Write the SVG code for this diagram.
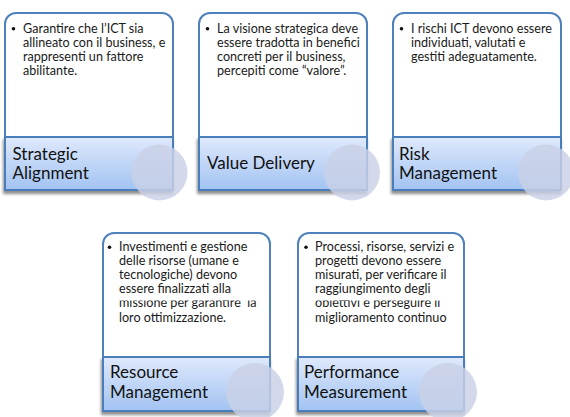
<svg xmlns="http://www.w3.org/2000/svg" width="570" height="417" viewBox="0 0 570 417">
<defs>
<linearGradient id="band" x1="0" y1="0" x2="0" y2="1">
<stop offset="0" stop-color="#dfe9fb"/>
<stop offset="1" stop-color="#a2c3f2"/>
</linearGradient>
<filter id="sh" x="-10%" y="-10%" width="130%" height="140%">
<feGaussianBlur in="SourceAlpha" stdDeviation="1.6"/>
<feOffset dx="-1" dy="2.5" result="b"/>
<feComponentTransfer><feFuncA type="linear" slope="0.45"/></feComponentTransfer>
<feMerge><feMergeNode/><feMergeNode in="SourceGraphic"/></feMerge>
</filter>
<clipPath id="clip4"><rect x="100" y="300.5" width="180" height="40"/></clipPath>
<clipPath id="clip5"><rect x="295" y="300.5" width="180" height="40"/></clipPath>
</defs>
<style>
.card{fill:#ffffff;stroke:#4f81bd;stroke-width:2}
.band{fill:url(#band);stroke:#4a7ebb;stroke-width:2}
.disc{fill:#c9d1e6;fill-opacity:0.82}
.txt{font-family:Lato,"Liberation Sans",sans-serif;font-size:12.6px;fill:#1a1a1a}
.ttl{font-family:Lato,"Liberation Sans",sans-serif;font-size:17px;fill:#111111}
.dot{fill:#111111}
</style>
<g id="connectors"/>
<g id="node-strategic-alignment">
<rect class="card" x="5" y="13" width="168" height="150" rx="11"/>
<rect class="band" x="5" y="137" width="168" height="53" filter="url(#sh)"/>
<circle class="disc" cx="159.5" cy="172.5" r="28"/>
<circle class="dot" cx="13.5" cy="28.8" r="1.8"/>
<text class="txt" x="23" y="32.5">Garantire che l’ICT sia</text>
<text class="txt" x="23" y="46.5">allineato con il business, e</text>
<text class="txt" x="23" y="60.5">rappresenti un fattore</text>
<text class="txt" x="23" y="74.5">abilitante.</text>
<text class="ttl" x="12.5" y="159.5">Strategic</text>
<text class="ttl" x="12.5" y="178.5">Alignment</text>
</g>
<g id="node-value-delivery">
<rect class="card" x="199" y="13" width="168" height="150" rx="11"/>
<rect class="band" x="199" y="137" width="168" height="53" filter="url(#sh)"/>
<circle class="disc" cx="352" cy="172.5" r="28"/>
<circle class="dot" cx="207.5" cy="28.8" r="1.8"/>
<text class="txt" x="217" y="32.5">La visione strategica deve</text>
<text class="txt" x="217" y="46.5">essere tradotta in benefici</text>
<text class="txt" x="217" y="60.5">concreti per il business,</text>
<text class="txt" x="217" y="74.5">percepiti come “valore”.</text>
<text class="ttl" x="207" y="168.5">Value Delivery</text>
</g>
<g id="node-risk-management">
<rect class="card" x="393" y="13" width="168" height="150" rx="11"/>
<rect class="band" x="393" y="137" width="168" height="53" filter="url(#sh)"/>
<circle class="disc" cx="546" cy="172.5" r="28"/>
<circle class="dot" cx="401.5" cy="28.8" r="1.8"/>
<text class="txt" x="411" y="32.5">I rischi ICT devono essere</text>
<text class="txt" x="411" y="46.5">individuati, valutati e</text>
<text class="txt" x="411" y="60.5">gestiti adeguatamente.</text>
<text class="ttl" x="399" y="159.5">Risk</text>
<text class="ttl" x="399" y="179">Management</text>
</g>
<g id="node-resource-management">
<rect class="card" x="103" y="233" width="167" height="150" rx="11"/>
<rect class="band" x="103" y="357" width="167" height="54" filter="url(#sh)"/>
<circle class="disc" cx="255" cy="392" r="29"/>
<circle class="dot" cx="109.5" cy="247.3" r="1.8"/>
<text class="txt" x="119" y="251">Investimenti e gestione</text>
<text class="txt" x="119" y="265.1">delle risorse (umane e</text>
<text class="txt" x="119" y="279.2">tecnologiche) devono</text>
<text class="txt" x="119" y="293.3">essere finalizzati alla</text>
<text class="txt" x="119" y="307.4" clip-path="url(#clip4)" xml:space="preserve">missione per garantire  la</text>
<text class="txt" x="119" y="321.5">loro ottimizzazione.</text>
<text class="ttl" x="110" y="378.3">Resource</text>
<text class="ttl" x="110" y="398">Management</text>
</g>
<g id="node-performance-measurement">
<rect class="card" x="298" y="233" width="166" height="150" rx="11"/>
<rect class="band" x="298" y="357" width="166" height="54" filter="url(#sh)"/>
<circle class="disc" cx="448" cy="392" r="29"/>
<circle class="dot" cx="306" cy="247.3" r="1.8"/>
<text class="txt" x="315" y="251">Processi, risorse, servizi e</text>
<text class="txt" x="315" y="265.1">progetti devono essere</text>
<text class="txt" x="315" y="279.2">misurati, per verificare il</text>
<text class="txt" x="315" y="293.3">raggiungimento degli</text>
<text class="txt" x="315" y="307.4" clip-path="url(#clip5)">obiettivi e perseguire il</text>
<text class="txt" x="315" y="321.5">miglioramento continuo</text>
<text class="ttl" x="304" y="378.3">Performance</text>
<text class="ttl" x="304" y="398">Measurement</text>
</g>
</svg>
